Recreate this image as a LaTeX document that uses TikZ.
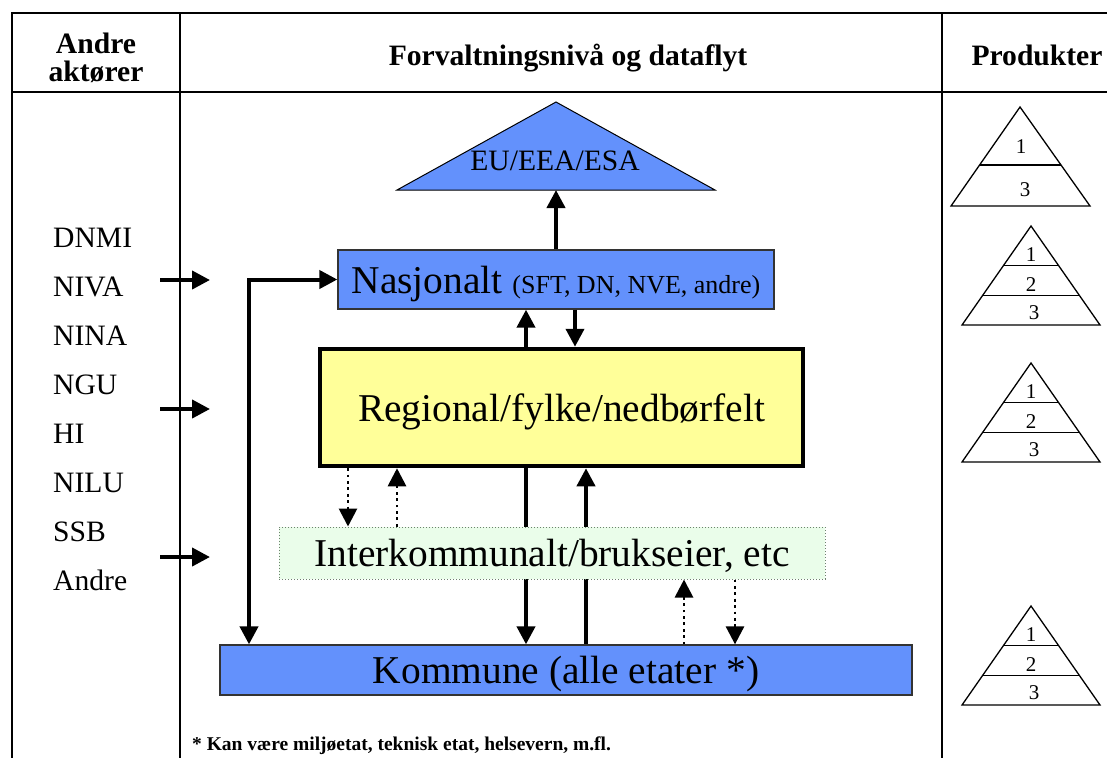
\documentclass[tikz,border=0pt]{standalone}
\usepackage{fontspec}
\setmainfont{Liberation Serif}
\usepackage{tikz}
\definecolor{bl}{RGB}{99, 145, 252}
\definecolor{yl}{RGB}{255, 255, 153}
\definecolor{gr}{RGB}{234, 253, 234}
\definecolor{grb}{RGB}{110, 130, 110}
\usetikzlibrary{arrows.meta}
\usetikzlibrary{calc}
\usetikzlibrary{backgrounds}

\begin{document}
\begin{tikzpicture}
	[x=1pt, y=-1pt, every node/.style={inner sep=0pt},
	>={Triangle[length=18pt, width=18pt]},
	txtL/.style={font=\fontsize{39.4}{41}\selectfont, text height=27pt, text depth=0pt},
	txtM/.style={font=\fontsize{29.6}{28}\selectfont},
	txtS/.style={font=\fontsize{21}{23}\selectfont},
	hd/.style={font=\fontsize{29.6}{28}\selectfont\bfseries},
	box/.style={rectangle, draw=black!80, line width=1.3pt},
	arr/.style={line width=4pt, ->},
	darr/.style={line width=2.8pt, dash pattern=on 2.8pt off 3.6pt, ->},
	tri/.style={line width=1.3pt, line join=miter}]
	\useasboundingbox (0, 0) rectangle (1107, 758);

	% table
	\draw [line width=2.2pt] (1107, 13) -- (12, 13) -- (12, 758);
	\draw [line width=2.2pt] (12, 92) -- (1107, 92);
	\draw [line width=2pt] (180, 13) -- (180, 758);
	\draw [line width=2pt] (942, 13) -- (942, 758);
	\node (hd1) [hd, align=center] at (96, 58) {Andre\\aktører};
	\node (hd2) [hd, anchor=base] at (568, 65) {Forvaltningsnivå og dataflyt};
	\node (hd3) [hd, anchor=base] at (1037, 65) {Produkter};

	% andre aktorer
	\foreach \n [count=\i from 0] in {DNMI, NIVA, NINA, NGU, HI, NILU, SSB, Andre}
		\node (ak\i) [txtM, anchor=base west] at (53, {247+49*\i}) {\n};
	\foreach \y [count=\i] in {280, 409, 557} {
		\coordinate (in\i) at (160, \y);
		\coordinate (out\i) at (210, \y);
		\draw [arr] (in\i) -- (out\i);
	}

	% nivaer
	\coordinate (eubase) at (556, 190);
	\draw [fill=bl, line width=1pt] (397, 190) -- (556, 102) -- (715, 190) -- cycle;
	\node (eu) [txtM, anchor=base] at (555, 170) {EU/EEA/ESA};
	\node (nas) [box, fill=bl, minimum width=436pt, minimum height=59pt, txtL] at (556, 279.5)
		{Nasjonalt \fontsize{26}{28}\selectfont (SFT, DN, NVE, andre)};
	\node (reg) [draw=black, line width=4.5pt, fill=yl, minimum width=483pt, minimum height=117pt, txtL] at (561.5, 407.5) {Regional/fylke/nedbørfelt};
	\node (inter) [draw=grb, dotted, line width=1pt, fill=gr, minimum width=546pt, minimum height=52pt, txtL] at (552, 553) {Interkommunalt/brukseier, etc};
	\node (komm) [box, fill=bl, minimum width=692pt, minimum height=50pt, txtL] at (566, 670) {Kommune (alle etater *)};

	% dataflyt
	\draw [arr] (nas.north) -- (eubase);
	\draw [arr] ([xshift=-35.5pt]reg.north) -- ([xshift=-35.5pt]reg.north |- nas.south);
	\draw [arr] ([xshift=13.5pt]reg.north |- nas.south) -- ([xshift=13.5pt]reg.north);
	\draw [darr] ([xshift=-213.5pt]reg.south) -- ([xshift=-213.5pt]reg.south |- inter.north);
	\draw [darr] ([xshift=-164.5pt]reg.south |- inter.north) -- ([xshift=-164.5pt]reg.south);
	\begin{pgfonlayer}{background}
		\draw [arr] ([xshift=-35.5pt]reg.south) -- ([xshift=-35.5pt]reg.south |- komm.north);
		\draw [arr] ([xshift=20pt]komm.north) -- ([xshift=20pt]komm.north |- reg.south);
	\end{pgfonlayer}
	\draw [darr] ([xshift=118pt]komm.north) -- ([xshift=118pt]komm.north |- inter.south);
	\draw [darr] ([xshift=169pt]komm.north |- inter.south) -- ([xshift=169pt]komm.north);
	\coordinate (fb) at (249, 0);
	\draw [arr, <->] (fb |- komm.north) -- (fb |- nas.west) -- (nas.west);

	% produkter
	\coordinate (pa1) at (1020, 107);
	\coordinate (pl1) at (951, 206);
	\coordinate (pr1) at (1090, 206);
	\draw [tri] (pa1) -- (pl1) -- (pr1) -- cycle;
	\draw [tri] ($(pa1)!0.586!(pl1)$) -- ($(pa1)!0.586!(pr1)$);
	\node (num1-1) [txtS] at (1021, 147) {1};
	\node (num1-3) [txtS] at (1025, 190) {3};
	\foreach \y [count=\i from 2] in {226, 363, 606} {
		\coordinate (pa\i) at (1031, \y);
		\coordinate (pl\i) at (962, {\y+99});
		\coordinate (pr\i) at (1100, {\y+99});
		\draw [tri] (pa\i) -- (pl\i) -- (pr\i) -- cycle;
		\draw [tri] ($(pa\i)!0.4!(pl\i)$) -- ($(pa\i)!0.4!(pr\i)$);
		\draw [tri] ($(pa\i)!0.7!(pl\i)$) -- ($(pa\i)!0.7!(pr\i)$);
		\node (num\i-1) [txtS] at (1031, {\y+29}) {1};
		\node (num\i-2) [txtS] at (1031, {\y+59}) {2};
		\node (num\i-3) [txtS] at (1034, {\y+87}) {3};
	}

	\node (fn) [font=\fontsize{19.5}{21}\selectfont\bfseries, anchor=base west] at (192, 750)
		{* Kan være miljøetat, teknisk etat, helsevern, m.fl.};
\end{tikzpicture}
\end{document}
